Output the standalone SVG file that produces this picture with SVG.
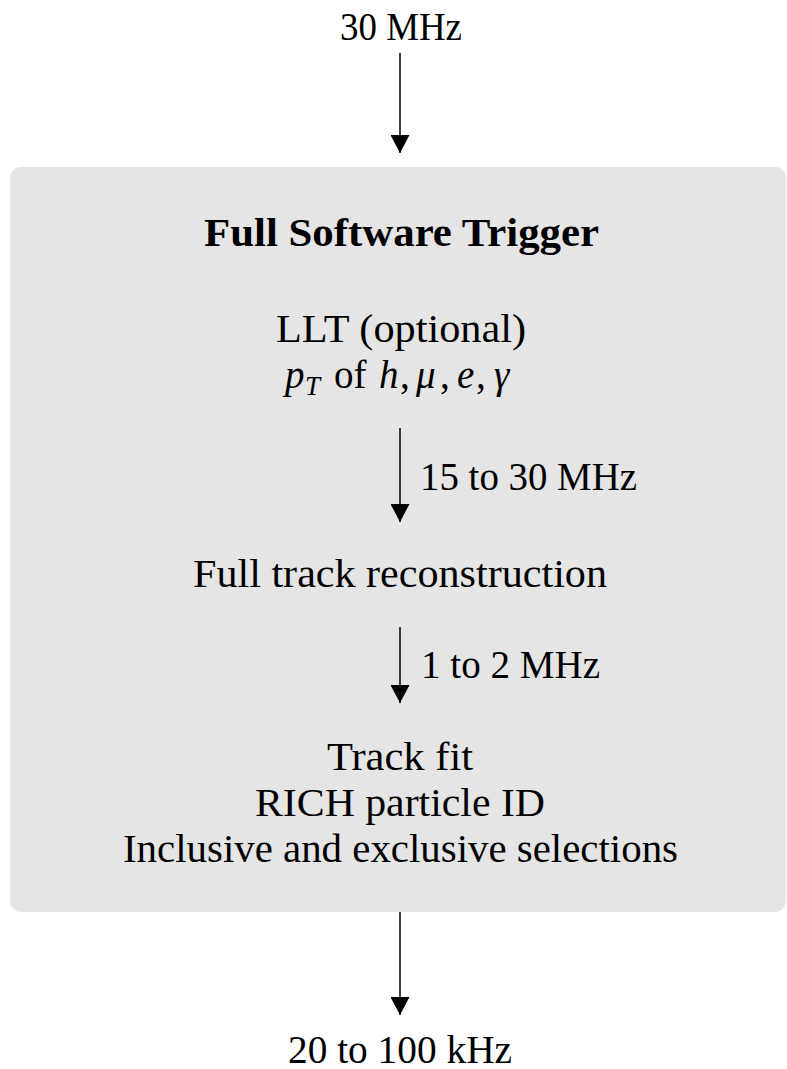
<svg xmlns="http://www.w3.org/2000/svg" width="787" height="1069" viewBox="0 0 787 1069">
<style>
.t{font-family:"Liberation Serif","DejaVu Serif","Times New Roman",serif;font-size:39px;fill:#000}
.b{font-weight:bold}
.i{font-style:italic}
.arr{stroke:#000;stroke-width:1.5;fill:none;marker-end:url(#ah)}
</style>
<defs>
<marker id="ah" markerUnits="userSpaceOnUse" markerWidth="19" markerHeight="19" refX="18" refY="9.5" orient="auto" viewBox="0 0 18 19">
<path d="M0,0 L18,9.5 L0,19 z" fill="#000"/>
</marker>
</defs>
<rect width="787" height="1069" fill="#fff"/>
<g id="box">
<rect x="10" y="167" width="776" height="745" rx="11" ry="11" fill="#e5e5e5"/>
</g>
<g id="connectors">
<line class="arr" x1="400" y1="53" x2="400" y2="153"/>
<line class="arr" x1="400" y1="428" x2="400" y2="522"/>
<line class="arr" x1="400" y1="627" x2="400" y2="703"/>
<line class="arr" x1="400" y1="912" x2="400" y2="1015"/>
</g>
<g id="input">
<text class="t" x="340" y="40" textLength="122" lengthAdjust="spacingAndGlyphs">30 MHz</text>
</g>
<g id="title">
<text class="t b" x="204" y="246" textLength="395" lengthAdjust="spacingAndGlyphs">Full Software Trigger</text>
</g>
<g id="llt">
<text class="t" x="276" y="342" textLength="250" lengthAdjust="spacingAndGlyphs">LLT (optional)</text>
<text class="t"><tspan class="i" x="285" y="388">p</tspan><tspan class="i" x="305" y="395" style="font-size:27px">T</tspan><tspan x="334" y="388">of</tspan><tspan class="i" x="379" y="388">h</tspan><tspan x="400" y="388">,</tspan><tspan class="i" x="416" y="388">μ</tspan><tspan x="440" y="388">,</tspan><tspan class="i" x="457" y="388">e</tspan><tspan x="476" y="388">,</tspan><tspan class="i" x="494" y="388">γ</tspan></text>
</g>
<g id="rate1">
<text class="t" x="420" y="490" textLength="217" lengthAdjust="spacingAndGlyphs">15 to 30 MHz</text>
</g>
<g id="tracking">
<text class="t" x="193" y="587" textLength="414" lengthAdjust="spacingAndGlyphs">Full track reconstruction</text>
</g>
<g id="rate2">
<text class="t" x="421" y="678" textLength="179" lengthAdjust="spacingAndGlyphs">1 to 2 MHz</text>
</g>
<g id="selection">
<text class="t" x="327" y="770" textLength="146" lengthAdjust="spacingAndGlyphs">Track fit</text>
<text class="t" x="255" y="816" textLength="290" lengthAdjust="spacingAndGlyphs">RICH particle ID</text>
<text class="t" x="123" y="862" textLength="555" lengthAdjust="spacingAndGlyphs">Inclusive and exclusive selections</text>
</g>
<g id="output">
<text class="t" x="288" y="1063" textLength="224" lengthAdjust="spacingAndGlyphs">20 to 100 kHz</text>
</g>
</svg>
